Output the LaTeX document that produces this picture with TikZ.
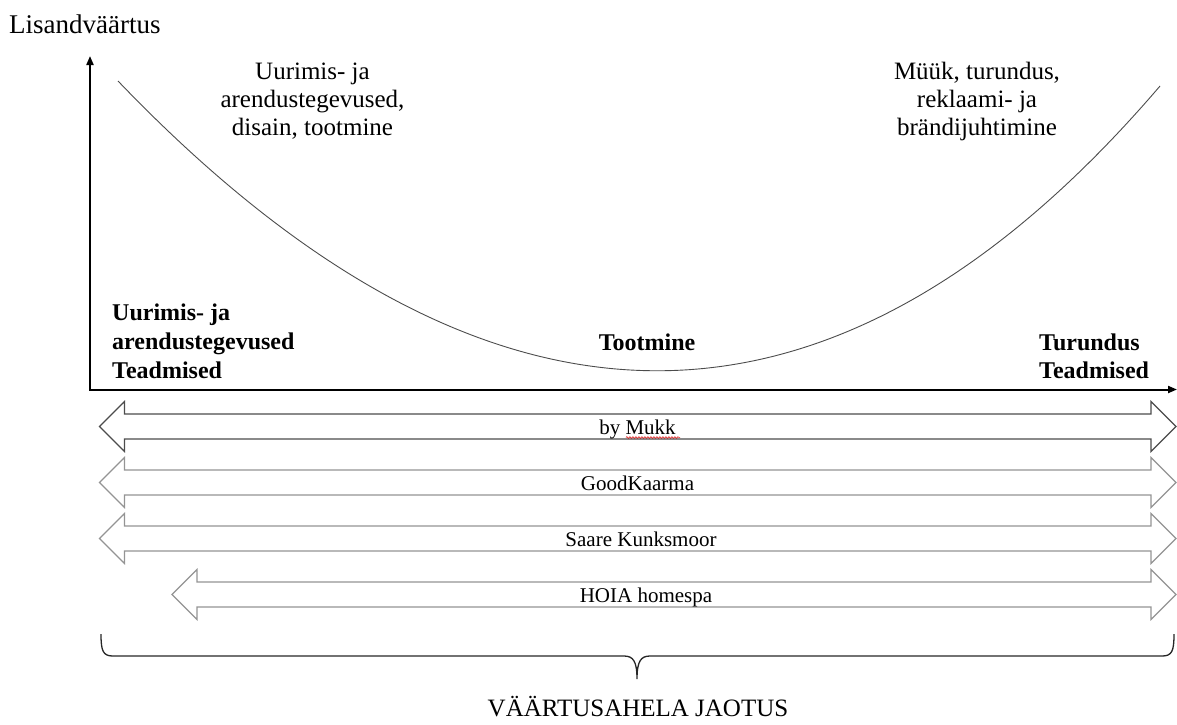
\documentclass[tikz,border=0pt]{standalone}
\usepackage{fontspec}
\setmainfont{Liberation Serif}
\usetikzlibrary{arrows.meta,decorations.pathmorphing}
\newcommand\blkarrow[4]{%
  \draw[#4] (#1,#3) -- (#1+25,#3-25) -- (#1+25,#3-12.5) -- (#2-25,#3-12.5) -- (#2-25,#3-25) -- (#2,#3)
    -- (#2-25,#3+25) -- (#2-25,#3+12.5) -- (#1+25,#3+12.5) -- (#1+25,#3+25) -- cycle;}
\tikzset{
  axisline/.style={line width=2pt, -{Triangle[length=9pt,width=7pt]}},
  curveline/.style={black!70, line width=0.9pt},
  lbl/.style={inner sep=0pt, font=\fontsize{25}{28}\selectfont},
  blbl/.style={inner sep=0pt, font=\fontsize{24}{28}\selectfont\bfseries},
  arrtxt/.style={inner sep=0pt, font=\fontsize{21}{25}\selectfont},
  darkarrow/.style={draw=black!70, line width=1.2pt, fill=white, line join=miter},
  lightarrow/.style={draw=black!42, line width=1.2pt, fill=white, line join=miter},
  bracestyle/.style={black!85, line width=1.3pt},
  squiggle/.style={red!85!black, line width=0.5pt, decorate, decoration={snake, amplitude=0.9pt, segment length=3pt}},
}
\begin{document}
\begin{tikzpicture}[x=1pt,y=-1pt]
\useasboundingbox (0,0) rectangle (1177,724);
% axes
\coordinate (O) at (90,389.5);
\coordinate (ytop) at (90,56);
\coordinate (xstart) at (89,389.5);
\coordinate (xend) at (1177,389.5);
\draw[axisline] (O) -- (ytop);
\draw[axisline] (xstart) -- (xend);
\node[lbl, font=\fontsize{27}{30}\selectfont, anchor=base west] (ylabel) at (9,33) {Lisandväärtus};
% curve
\coordinate (cstart) at (118,81);
\coordinate (cend) at (1160,86);
\draw[curveline] (cstart) .. controls (487,466) and (834,467) .. (cend);
% top texts
\node[lbl, anchor=base] (tl1) at (312.5,79) {Uurimis- ja};
\node[lbl, anchor=base] (tl2) at (312.5,107) {arendustegevused,};
\node[lbl, anchor=base] (tl3) at (312.5,135) {disain, tootmine};
\node[lbl, anchor=base] (tr1) at (977,79) {Müük, turundus,};
\node[lbl, anchor=base] (tr2) at (977,107) {reklaami- ja};
\node[lbl, anchor=base] (tr3) at (977,135) {brändijuhtimine};
% bold axis labels
\node[blbl, anchor=base west] (bl1) at (112,320) {Uurimis- ja};
\node[blbl, anchor=base west] (bl2) at (112,349) {arendustegevused};
\node[blbl, anchor=base west] (bl3) at (112,378) {Teadmised};
\node[blbl, anchor=base] (mid) at (647,350) {Tootmine};
\node[blbl, anchor=base west] (br1) at (1039,350) {Turundus};
\node[blbl, anchor=base west] (br2) at (1039,378) {Teadmised};
% block arrows
\blkarrow{99.5}{1176}{426.5}{darkarrow}
\blkarrow{99.5}{1176}{482.5}{lightarrow}
\blkarrow{99.5}{1176}{538.5}{lightarrow}
\blkarrow{172}{1176}{594.5}{lightarrow}
\node[arrtxt, anchor=base] (mukk) at (637.5,434) {by Mukk};
\draw[squiggle] (626,437.5) -- (680,437.5);
\node[arrtxt, anchor=base] (good) at (637.5,490.5) {GoodKaarma};
\node[arrtxt, anchor=base] (saare) at (641,546.5) {Saare Kunksmoor};
\node[arrtxt, anchor=base] (hoia) at (646,602.5) {HOIA homespa};
% brace
\draw[bracestyle] (101,634) .. controls (101,651) and (103,656) .. (113,656) -- (624,656)
  .. controls (633,656) and (637,661) .. (637,679)
  .. controls (637,661) and (641,656) .. (650,656) -- (1162,656)
  .. controls (1172,656) and (1174,651) .. (1174,634);
\node[lbl, font=\fontsize{25}{28}\selectfont, anchor=base] (title) at (638,716) {VÄÄRTUSAHELA JAOTUS};
\end{tikzpicture}
\end{document}
